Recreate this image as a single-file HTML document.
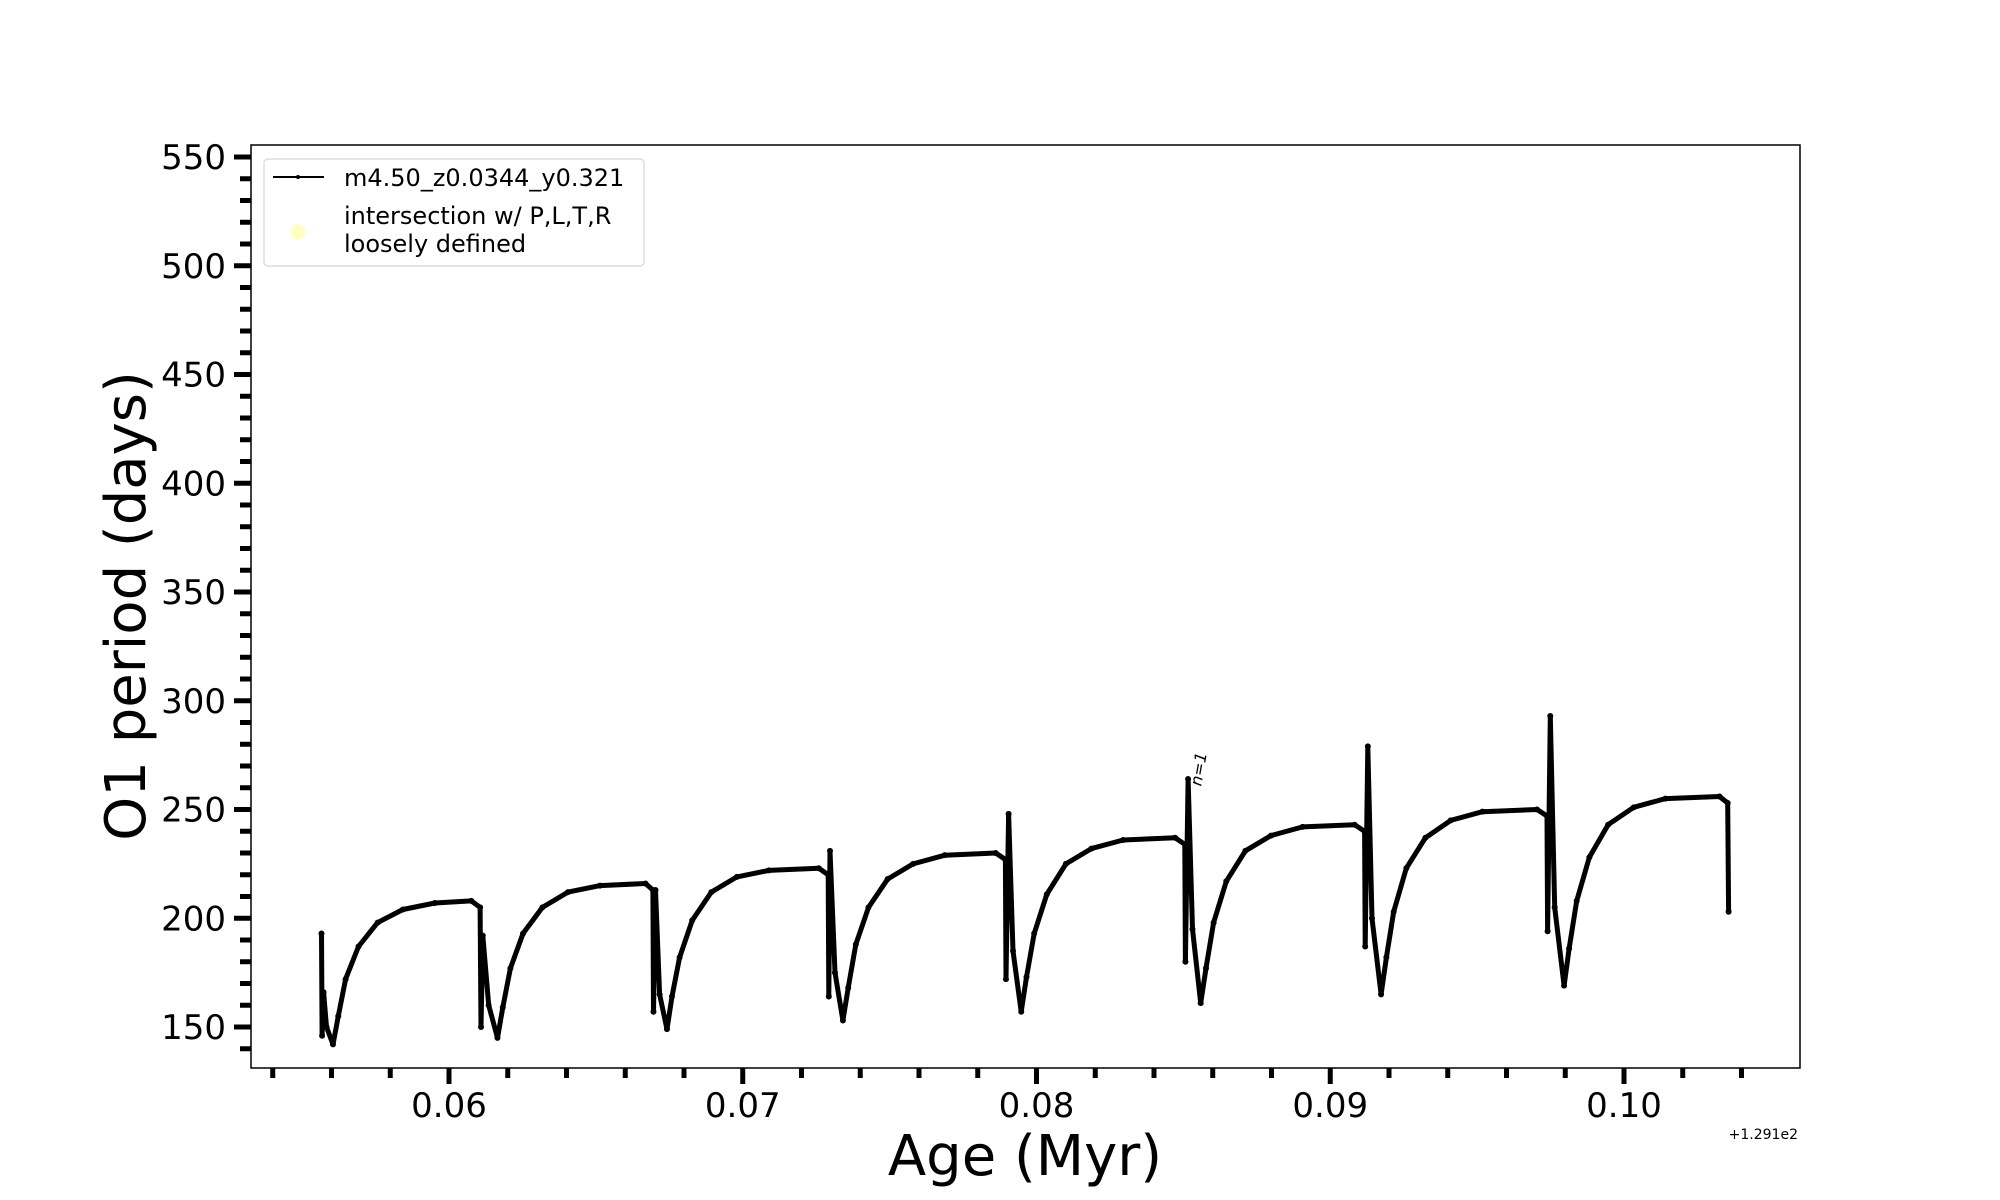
<!DOCTYPE html>
<html><head><meta charset="utf-8"><style>
html,body{margin:0;padding:0;background:#fff;}
svg{display:block;font-family:"DejaVu Sans","Liberation Sans",sans-serif;}
</style></head><body>
<svg id="chart" width="2000" height="1200" viewBox="0 0 2000 1200" xmlns="http://www.w3.org/2000/svg">
<rect x="0" y="0" width="2000" height="1200" fill="#fff"/>
<g id="ticks"></g>
<path id="series" fill="none" stroke="#000" stroke-width="5" stroke-linejoin="round"/>
<g id="dots"></g>
<rect x="251" y="145" width="1549" height="923" fill="none" stroke="#000" stroke-width="1.5"/>
<text x="0" y="0" font-size="16" font-style="italic" transform="translate(1204,770) rotate(-80)" text-anchor="middle">n=1</text>
<text x="1025" y="1175" font-size="56" text-anchor="middle">Age (Myr)</text>
<text x="0" y="0" font-size="56" text-anchor="middle" transform="translate(145,606) rotate(-90)">O1 period (days)</text>
<text x="1798" y="1139" font-size="14" text-anchor="end">+1.291e2</text>
<g>
<rect x="264" y="159" width="380" height="107" rx="4" fill="#fff" stroke="#ddd" stroke-width="1.5"/>
<line x1="273" y1="177" x2="324" y2="177" stroke="#000" stroke-width="2"/>
<circle cx="298" cy="177" r="2" fill="#000"/>
<text x="344" y="186" font-size="24">m4.50_z0.0344_y0.321</text>
<circle cx="298" cy="232" r="7.5" fill="#ffffb3" opacity="0.8"/>
<text x="344" y="224" font-size="24">intersection w/ P,L,T,R</text>
<text x="344" y="252" font-size="24">loosely defined</text>
</g>
</svg>
<script>
const ages = [0.05566,0.05568,0.05573,0.05583,0.05605,0.05623,0.05648,0.05692,0.05757,0.05843,0.05952,0.06076,0.06106,0.06109,
0.06115,0.06135,0.06165,0.06183,0.06209,0.06252,0.06318,0.06405,0.06514,0.06669,0.06694,0.06696,
0.06703,0.06717,0.06742,0.06759,0.06785,0.06828,0.06893,0.06980,0.07089,0.07259,0.07291,0.07293,
0.07297,0.07314,0.07341,0.07359,0.07385,0.07428,0.07493,0.07580,0.07688,0.07861,0.07894,0.07896,
0.07905,0.07920,0.07948,0.07966,0.07992,0.08035,0.08100,0.08187,0.08295,0.08472,0.08505,0.08507,
0.08516,0.08531,0.08559,0.08577,0.08603,0.08646,0.08711,0.08798,0.08906,0.09083,0.09117,0.09119,
0.09128,0.09142,0.09173,0.09191,0.09216,0.09259,0.09324,0.09410,0.09518,0.09704,0.09738,0.09740,
0.09749,0.09764,0.09796,0.09813,0.09839,0.09882,0.09946,0.10033,0.10141,0.10325,0.10353,0.10356];
const periods = [193,146,166,150,142,155,172,187,198,204,207,208,205,150,
192,160,145,159,177,193,205,212,215,216,213,157,
213,165,149,164,182,199,212,219,222,223,220,164,
231,175,153,168,188,205,218,225,229,230,227,172,
248,185,157,173,193,211,225,232,236,237,234,180,
264,195,161,177,198,217,231,238,242,243,240,187,
279,200,165,182,203,223,237,245,249,250,247,194,
293,205,169,186,208,228,243,251,255,256,253,203];
const xTickLabels = ["0.06","0.07","0.08","0.09","0.10"];
const yTickLabels = ["150","200","250","300","350","400","450","500","550"];

const NS = "http://www.w3.org/2000/svg";
function xs(v){ return 449 + (v - 0.06) * 29375; }
function ys(v){ return 1027 - (v - 150) * 2.175; }

let d = "";
for (let i = 0; i < ages.length; i++) d += (i ? "L" : "M") + xs(ages[i]).toFixed(1) + " " + ys(periods[i]).toFixed(1);
document.getElementById("series").setAttribute("d", d);
const dots = document.getElementById("dots");
for (let i = 0; i < ages.length; i++) {
  const c = document.createElementNS(NS, "circle");
  
  
  c.setAttribute("cx", xs(ages[i])); c.setAttribute("cy", ys(periods[i])); c.setAttribute("r", 3); c.setAttribute("fill", "#000");
  dots.appendChild(c);
}

const g = document.getElementById("ticks");
function line(x1,y1,x2,y2,w){ const l=document.createElementNS(NS,"line"); l.setAttribute("x1",x1);l.setAttribute("y1",y1);l.setAttribute("x2",x2);l.setAttribute("y2",y2);l.setAttribute("stroke","#000");l.setAttribute("stroke-width",w);   g.appendChild(l); }
function txt(x,y,s,anchor){ const t=document.createElementNS(NS,"text"); t.setAttribute("x",x);t.setAttribute("y",y);t.setAttribute("font-size","34");t.setAttribute("text-anchor",anchor);t.textContent=s;   g.appendChild(t); }
for (let k = 0; k <= 25; k++) {
  const v = 0.054 + k * 0.002; const x = xs(v);
  const major = Math.abs((v*100) - Math.round(v*100)) < 1e-6;
  line(x, 1068, x, major ? 1084 : 1078, 5);
}
xTickLabels.forEach(s => txt(xs(parseFloat(s)), 1117, s, "middle"));
for (let v = 140; v <= 550; v += 10) {
  const major = v % 50 === 0; const y = ys(v);
  line(251, y, major ? 234 : 240, y, 5);
}
yTickLabels.forEach(s => txt(226, ys(parseFloat(s)) + 12, s, "end"));
</script>
</body></html>
